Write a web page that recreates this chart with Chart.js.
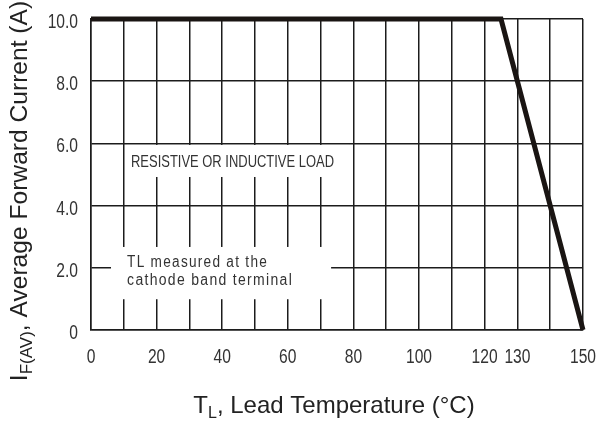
<!DOCTYPE html>
<html lang="en">
<head>
    <meta charset="UTF-8">
    <title>Forward Current Derating Curve</title>
    <script src="https://cdn.jsdelivr.net/npm/chart.js"></script>
    <style>
        html, body { margin: 0; padding: 0; background: #fff; }
        .chart-container { width: 600px; height: 421px; }
    </style>
</head>
<body>
    <div class="chart-container">
        <canvas id="deratingChart"></canvas>
    </div>

    <script>
        // Curve data
        const temperatures = [0, 125, 150];   // T_L (°C)
        const currents = [10, 10, 0];         // I_F(AV) (A)

        // Tick labels
        const xTickLabels = [0, 20, 40, 60, 80, 100, 120, 130, 150];
        const yTickValues = [0, 2, 4, 6, 8, 10];
        const yTickLabels = ['0', '2.0', '4.0', '6.0', '8.0', '10.0'];

        const lineColor = '#1a1513';
        const gridColor = '#1c1c1c';
        const textColor = '#333';
        const sansFont = '"Liberation Sans", Arial, sans-serif';
        const narrow = 0.78; // squeeze Liberation Sans to look like a narrow face

        // White boxes behind the notes (in axis units)
        const noteBoxes = [
            { x0: 11.0, x1: 78.6, y0: 4.92, y1: 5.95 },
            { x0: 6.1, x1: 73.2, y0: 0.99, y1: 2.67 }
        ];
        const notes = [
            { lines: ['RESISTIVE OR INDUCTIVE LOAD'], widths: [203], x: 12.2, y: 5.24, size: 17, spacing: 0 },
            { lines: ['TL measured at the', 'cathode band terminal'], widths: [141, 166], x: 11.0, y: 2.04, size: 16, spacing: 1.5 }
        ];

        // draw text made of normal and subscript parts, centred on (0, 0)
        function drawParts(ctx, parts, size) {
            const subSize = Math.round(size * 0.68);
            let total = 0;
            parts.forEach(p => {
                ctx.font = (p.sub ? subSize : size) + 'px ' + sansFont;
                p.w = ctx.measureText(p.t).width;
                total += p.w;
            });
            let cx = -total / 2;
            parts.forEach(p => {
                ctx.font = (p.sub ? subSize : size) + 'px ' + sansFont;
                ctx.fillText(p.t, cx, p.sub ? 5 : 0);
                cx += p.w;
            });
        }

        function narrowText(ctx, text, px, py, align) {
            ctx.save();
            ctx.translate(px, py);
            ctx.scale(narrow, 1);
            ctx.textAlign = align;
            ctx.fillText(text, 0, 0);
            ctx.restore();
        }

        const annotations = {
            id: 'annotations',
            beforeDatasetsDraw(chart) {
                const { ctx, scales: { x, y } } = chart;
                ctx.save();
                ctx.fillStyle = '#fff';
                noteBoxes.forEach(b => {
                    const l = x.getPixelForValue(b.x0), r = x.getPixelForValue(b.x1);
                    const t = y.getPixelForValue(b.y1), btm = y.getPixelForValue(b.y0);
                    ctx.fillRect(l, t, r - l, btm - t);
                });
                ctx.fillStyle = textColor;
                ctx.textBaseline = 'alphabetic';
                ctx.textAlign = 'left';
                notes.forEach(n => {
                    ctx.font = n.size + 'px ' + sansFont;
                    ctx.letterSpacing = n.spacing + 'px';
                    n.lines.forEach((line, i) => {
                        ctx.fillText(line, x.getPixelForValue(n.x), y.getPixelForValue(n.y) + i * 18.5, n.widths[i]);
                    });
                });
                ctx.restore();
            },
            afterDraw(chart) {
                const { ctx, scales: { x, y } } = chart;
                ctx.save();
                ctx.textBaseline = 'alphabetic';

                // tick labels
                ctx.fillStyle = textColor;
                ctx.font = '20px ' + sansFont;
                yTickValues.forEach((v, i) => {
                    narrowText(ctx, yTickLabels[i], x.left - 13, y.getPixelForValue(v) + 9, 'right');
                });
                xTickLabels.forEach(v => {
                    narrowText(ctx, String(v), x.getPixelForValue(v), y.bottom + 33, 'center');
                });

                ctx.fillStyle = '#222';
                ctx.textAlign = 'left';

                // y axis title
                ctx.save();
                ctx.translate(27, 191);
                ctx.rotate(-Math.PI / 2);
                drawParts(ctx, [
                    { t: 'I' }, { t: 'F(AV)', sub: true }, { t: ', Average Forward Current (A)' }
                ], 24.6);
                ctx.restore();

                // x axis title
                ctx.save();
                ctx.translate(334, 413);
                drawParts(ctx, [
                    { t: 'T' }, { t: 'L', sub: true }, { t: ', Lead Temperature (°C)' }
                ], 24);
                ctx.restore();

                ctx.restore();
            }
        };

        const ctx = document.getElementById('deratingChart').getContext('2d');
        const chart = new Chart(ctx, {
            type: 'line',
            data: {
                datasets: [{
                    data: temperatures.map((t, i) => ({ x: t, y: currents[i] })),
                    borderColor: lineColor,
                    borderWidth: 5,
                    borderJoinStyle: 'miter',
                    pointRadius: 0,
                    tension: 0,
                    fill: false,
                    clip: false
                }]
            },
            options: {
                responsive: true,
                maintainAspectRatio: false,
                animation: false,
                layout: { padding: { top: 19, right: 17, left: 0, bottom: 0 } },
                plugins: {
                    legend: { display: false },
                    tooltip: { enabled: false }
                },
                scales: {
                    x: {
                        type: 'linear',
                        min: 0,
                        max: 150,
                        afterFit(scale) {
                            scale.height = 91;
                            scale.paddingLeft = 0;
                            scale.paddingRight = 0;
                        },
                        grid: { color: gridColor, lineWidth: 1.5, drawTicks: false },
                        border: { display: true, color: gridColor, width: 1.5 },
                        ticks: { display: false, stepSize: 10, autoSkip: false }
                    },
                    y: {
                        min: 0,
                        max: 10,
                        afterFit(scale) {
                            scale.width = 91;
                            scale.paddingTop = 0;
                            scale.paddingBottom = 0;
                        },
                        grid: { color: gridColor, lineWidth: 1.5, drawTicks: false },
                        border: { display: true, color: gridColor, width: 1.5 },
                        ticks: { display: false, stepSize: 2 }
                    }
                }
            },
            plugins: [annotations]
        });
    </script>
</body>
</html>
